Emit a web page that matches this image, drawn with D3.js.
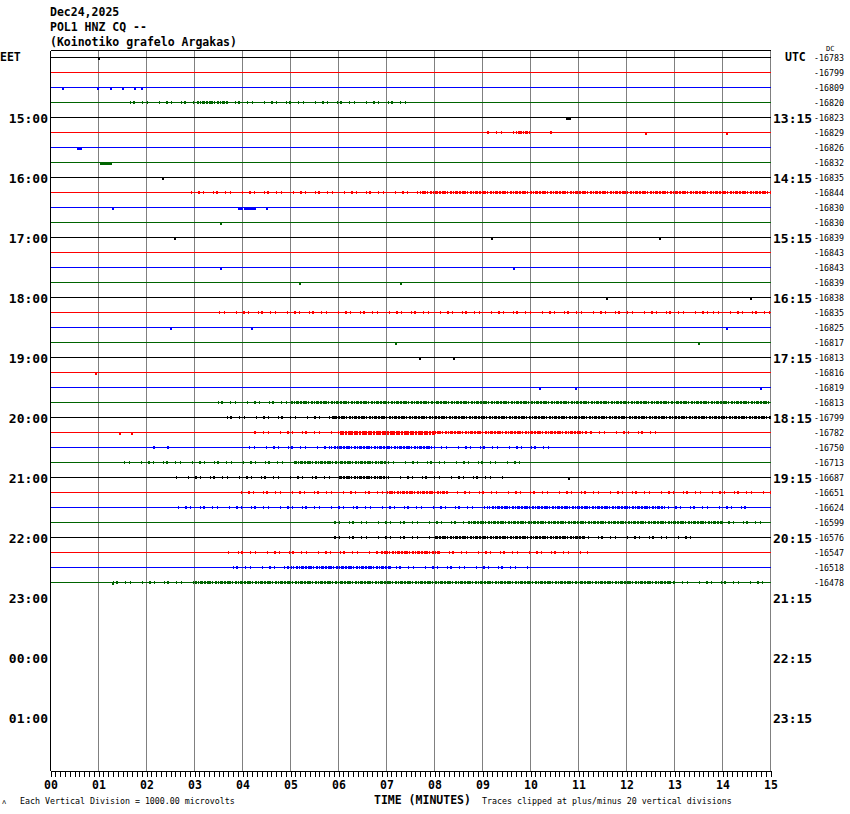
<!DOCTYPE html>
<html>
<head>
<meta charset="utf-8">
<script src="https://cdnjs.cloudflare.com/ajax/libs/d3/7.8.5/d3.min.js"></script>
<style>
  body { margin: 0; background: #ffffff; }
  text { font-family: "DejaVu Sans Mono", monospace; fill: #000; }
</style>
</head>
<body>
<div id="helicorder"></div>
<script>
// header text lines
var titleLines = ["Dec24,2025", "POL1 HNZ CQ --", "(Koinotiko grafelo Argakas)"];

// hour labels, one every four traces
var eetLabels = ["15:00", "16:00", "17:00", "18:00", "19:00", "20:00",
  "21:00", "22:00", "23:00", "00:00", "01:00"];
var utcLabels = ["13:15", "14:15", "15:15", "16:15", "17:15", "18:15",
  "19:15", "20:15", "21:15", "22:15", "23:15"];

// minutes on the time axis
var minuteLabels = ["00", "01", "02", "03", "04", "05", "06", "07",
  "08", "09", "10", "11", "12", "13", "14", "15"];

// DC offset printed at the right of every trace
var dcValues = [-16783, -16799, -16809, -16820, -16823, -16829, -16826, -16832,
  -16835, -16844, -16830, -16830, -16839, -16843, -16843, -16839,
  -16838, -16835, -16825, -16817, -16813, -16816, -16819, -16813,
  -16799, -16782, -16750, -16713, -16687, -16651, -16624, -16599,
  -16576, -16547, -16518, -16478];

// stretches of noisy signal: [trace, from minute, to minute, level]
var noiseBands = [
  [3, 1.5, 3.0, 1], [3, 3.05, 3.7, 2], [3, 3.7, 7.5, 1],
  [5, 9.1, 10.1, 1], [5, 9.7, 10.0, 2], [5, 10.4, 10.6, 1],
  [9, 2.8, 7.7, 1], [9, 7.7, 15, 2],
  [17, 3.5, 13.8, 1], [17, 13.8, 15, 1],
  [23, 3.3, 5.0, 1], [23, 5.0, 15, 2],
  [24, 3.6, 5.9, 1], [24, 5.9, 15, 2],
  [25, 4.2, 6.0, 1], [25, 6.0, 8.0, 3], [25, 8.0, 11.2, 2], [25, 11.2, 12.8, 1],
  [26, 4.0, 5.8, 1], [26, 5.8, 8.0, 2], [26, 8.0, 10.6, 1],
  [27, 1.5, 5.1, 1], [27, 5.1, 7.0, 2], [27, 7.0, 9.8, 1],
  [28, 2.6, 6.0, 1], [28, 6.0, 7.0, 2], [28, 7.0, 9.5, 1],
  [29, 3.8, 7.0, 1], [29, 7.0, 8.3, 2], [29, 8.3, 15, 1],
  [30, 2.6, 9.1, 1], [30, 9.1, 12.8, 2], [30, 12.8, 14.5, 1],
  [31, 5.8, 8.7, 1], [31, 8.7, 14.0, 2], [31, 14.0, 15, 1],
  [32, 5.9, 8.0, 1], [32, 8.0, 11.1, 2], [32, 11.1, 13.5, 1],
  [33, 3.7, 6.9, 1], [33, 6.9, 8.1, 2], [33, 8.1, 11.2, 1],
  [34, 3.7, 5.0, 1], [34, 5.0, 7.1, 2], [34, 7.1, 10.0, 1],
  [35, 1.3, 3.0, 1], [35, 3.0, 12.9, 2], [35, 12.9, 15, 1]
];

// single wiggles on otherwise quiet traces: [trace, minute, level]
var spikes = [
  [0, 1.0, 1],
  [2, 0.25, 1], [2, 0.98, 1], [2, 1.25, 1], [2, 1.5, 1], [2, 1.75, 1], [2, 1.9, 1],
  [4, 10.8, 2],
  [5, 12.4, 1], [5, 14.1, 1],
  [6, 0.6, 2],
  [7, 1.15, 3],
  [8, 2.35, 1],
  [10, 1.3, 1], [10, 3.95, 2], [10, 4.15, 3], [10, 4.5, 1],
  [11, 3.55, 1],
  [12, 2.6, 1], [12, 9.2, 1], [12, 12.7, 1],
  [14, 3.55, 1], [14, 9.65, 1],
  [15, 5.2, 1], [15, 7.3, 1],
  [16, 11.6, 1], [16, 14.6, 1],
  [18, 2.5, 1], [18, 4.2, 1], [18, 14.1, 1],
  [19, 7.2, 1], [19, 13.5, 1],
  [20, 7.7, 1], [20, 8.4, 1],
  [21, 0.95, 1],
  [22, 10.2, 1], [22, 10.95, 1], [22, 14.8, 1],
  [25, 1.45, 1], [25, 1.7, 1],
  [26, 2.15, 1], [26, 2.45, 1],
  [28, 10.8, 1],
  [35, 1.3, 1]
];

// trace colours cycle black, red, blue, green
var traceColors = ["#000000", "#ff0000", "#0000ff", "#006400"];

// how each noise level is drawn
var bandStyle = {
  1: {width: 3, dash: "1,6,2,3,1,9,1,2,2,7,1,4,1,11"},
  2: {width: 3, dash: "3,1,2,1,4,1,1,2,2,1,1,1"},
  3: {width: 4, dash: "4,1,2,1,5,1"}
};
var spikeSize = {1: [2, 3], 2: [5, 3], 3: [12, 3]};

var svg = d3.select("#helicorder")
  .append("svg")
  .attr("width", 850)
  .attr("height", 814);

// x covers the 15 minutes of a line, y covers 48 quarter hour rows
var x = d3.scaleLinear().domain([0, 15]).range([50.5, 770.5]);
var y = d3.scaleLinear().domain([0, 48]).range([50.5, 770.5]);
function yRow(i) { return y(i) + 7; }

// header
svg.selectAll(".title")
  .data(titleLines)
  .enter().append("text")
  .attr("class", "title")
  .attr("x", 50)
  .attr("y", function(d, i) { return 16 + i * 15; })
  .style("font-size", "11.5px")
  .style("font-weight", "bold")
  .text(function(d) { return d; });

// vertical minute grid
svg.selectAll(".grid")
  .data(d3.range(1, 16))
  .enter().append("line")
  .attr("class", "grid")
  .attr("x1", function(d) { return x(d); })
  .attr("x2", function(d) { return x(d); })
  .attr("y1", y(0))
  .attr("y2", y(48))
  .style("stroke", "#808080")
  .style("stroke-width", 1)
  .style("shape-rendering", "crispEdges");

// left border and top border
svg.append("line")
  .attr("x1", x(0)).attr("x2", x(0))
  .attr("y1", y(0)).attr("y2", y(48))
  .style("stroke", "#000").style("shape-rendering", "crispEdges");
svg.append("line")
  .attr("x1", x(0)).attr("x2", x(15))
  .attr("y1", y(0)).attr("y2", y(0))
  .style("stroke", "#000").style("shape-rendering", "crispEdges");

// base trace lines
svg.selectAll(".trace")
  .data(dcValues)
  .enter().append("line")
  .attr("class", "trace")
  .attr("x1", x(0))
  .attr("x2", x(15))
  .attr("y1", function(d, i) { return yRow(i); })
  .attr("y2", function(d, i) { return yRow(i); })
  .style("stroke", function(d, i) { return traceColors[i % 4]; })
  .style("stroke-width", 1)
  .style("shape-rendering", "crispEdges");

// noisy stretches
svg.selectAll(".noise")
  .data(noiseBands)
  .enter().append("line")
  .attr("class", "noise")
  .attr("x1", function(d) { return x(d[1]); })
  .attr("x2", function(d) { return x(d[2]); })
  .attr("y1", function(d) { return yRow(d[0]); })
  .attr("y2", function(d) { return yRow(d[0]); })
  .style("stroke", function(d) { return traceColors[d[0] % 4]; })
  .style("stroke-width", function(d) { return bandStyle[d[3]].width; })
  .style("stroke-dasharray", function(d) { return bandStyle[d[3]].dash; })
  .style("stroke-dashoffset", function(d) { return d[0] * 5; })
  .style("shape-rendering", "crispEdges");

// single wiggles
svg.selectAll(".spike")
  .data(spikes)
  .enter().append("rect")
  .attr("class", "spike")
  .attr("x", function(d) { return Math.round(x(d[1]) - spikeSize[d[2]][0] / 2); })
  .attr("y", function(d) { return Math.round(yRow(d[0]) - 1); })
  .attr("width", function(d) { return spikeSize[d[2]][0]; })
  .attr("height", function(d) { return spikeSize[d[2]][1]; })
  .style("fill", function(d) { return traceColors[d[0] % 4]; })
  .style("shape-rendering", "crispEdges");

// time zone names
svg.append("text").attr("x", 0).attr("y", 61)
  .style("font-size", "11.5px").style("font-weight", "bold").text("EET");
svg.append("text").attr("x", 785).attr("y", 61)
  .style("font-size", "11.5px").style("font-weight", "bold").text("UTC");

// hour labels on both sides
svg.selectAll(".eet")
  .data(eetLabels)
  .enter().append("text")
  .attr("class", "eet")
  .attr("x", 48)
  .attr("y", function(d, i) { return yRow(4 * (i + 1)) + 5; })
  .style("text-anchor", "end")
  .style("font-size", "13px")
  .style("font-weight", "bold")
  .text(function(d) { return d; });

svg.selectAll(".utc")
  .data(utcLabels)
  .enter().append("text")
  .attr("class", "utc")
  .attr("x", 773)
  .attr("y", function(d, i) { return yRow(4 * (i + 1)) + 5; })
  .style("font-size", "13px")
  .style("font-weight", "bold")
  .text(function(d) { return d; });

// DC column
svg.append("text").attr("x", 826).attr("y", 51)
  .style("font-size", "7px").text("DC");
svg.selectAll(".dc")
  .data(dcValues)
  .enter().append("text")
  .attr("class", "dc")
  .attr("x", 814)
  .attr("y", function(d, i) { return yRow(i) + 3; })
  .style("font-size", "8.3px")
  .text(function(d) { return d; });

// minor ticks every six seconds
var minorAxis = d3.axisBottom(x)
  .tickValues(d3.range(151).map(function(d) { return d / 10; }))
  .tickSize(6)
  .tickSizeOuter(0)
  .tickFormat("");
svg.append("g")
  .attr("class", "x axis")
  .attr("transform", "translate(0," + y(48) + ")")
  .call(minorAxis)
  .call(function(g) { g.selectAll("line,path").style("shape-rendering", "crispEdges"); });

// minute labels
var labelAxis = d3.axisBottom(x)
  .tickValues(d3.range(16))
  .tickSize(0)
  .tickPadding(10)
  .tickFormat(function(d) { return minuteLabels[d]; });
svg.append("g")
  .attr("class", "x labels")
  .attr("transform", "translate(0," + y(48) + ")")
  .call(labelAxis)
  .call(function(g) { g.select(".domain").remove(); })
  .selectAll("text")
  .style("font-family", "'DejaVu Sans Mono', monospace")
  .style("font-size", "11.5px")
  .style("font-weight", "bold");

// footer
svg.append("text").attr("x", 2).attr("y", 804)
  .style("font-size", "7px").text("ʌ");
svg.append("text").attr("x", 20).attr("y", 804)
  .style("font-size", "8.3px").text("Each Vertical Division = 1000.00 microvolts");
svg.append("text").attr("x", 374).attr("y", 804)
  .style("font-size", "11.5px").style("font-weight", "bold").text("TIME (MINUTES)");
svg.append("text").attr("x", 482).attr("y", 804)
  .style("font-size", "8.3px").text("Traces clipped at plus/minus 20 vertical divisions");
</script>
</body>
</html>
